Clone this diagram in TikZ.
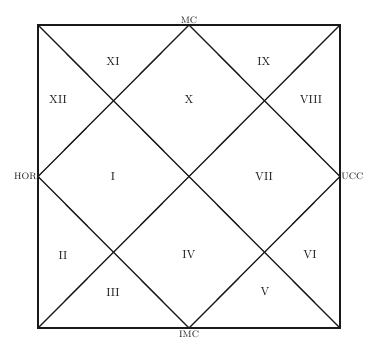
\documentclass[tikz,border=0pt]{standalone}
\usepackage{tikz}
\usetikzlibrary{positioning, calc}
\definecolor{DG}{RGB}{25,25,25}

\begin{document}
\begin{tikzpicture}[
  x=0.03cm, y=-0.03cm,
  chart/.style={draw=DG, line width=1.1pt, line join=miter},
  house/.style={font=\normalsize, text=DG, inner sep=0pt},
  angle/.style={font=\footnotesize, text=DG, inner sep=1pt}
]
\useasboundingbox (0,0) rectangle (367,348);

% Corners and cusp points
\coordinate (tl) at (38,25);
\coordinate (tr) at (340,25);
\coordinate (br) at (340,328);
\coordinate (bl) at (38,328);
\coordinate (mc)  at ($(tl)!0.5!(tr)$);
\coordinate (imc) at ($(bl)!0.5!(br)$);
\coordinate (hor) at ($(tl)!0.5!(bl)$);
\coordinate (ucc) at ($(tr)!0.5!(br)$);

% Frame, diagonals and diamond
\draw[chart] (tl) rectangle (br);
\draw[chart] (tl) -- (br);
\draw[chart] (tr) -- (bl);
\draw[chart] (mc) -- (ucc) -- (imc) -- (hor) -- cycle;

% Angle labels
\node[angle, above=0pt of mc]  (lmc)  {MC};
\node[angle, below=1pt of imc] (limc) {IMC};
\node[angle, left=0pt of hor]  (lhor) {HOR};
\node[angle, right=0pt of ucc] (lucc) {UCC};

% Houses
\node[house] (h1)  at (113,177) {I};
\node[house] (h2)  at (63,255)  {II};
\node[house] (h3)  at (113,292) {III};
\node[house] (h4)  at (189,255) {IV};
\node[house] (h5)  at (265,292) {V};
\node[house] (h6)  at (310,255) {VI};
\node[house] (h7)  at (264,177) {VII};
\node[house] (h8)  at (311,100) {VIII};
\node[house] (h9)  at (264,62)  {IX};
\node[house] (h10) at (189,100) {X};
\node[house] (h11) at (113,62)  {XI};
\node[house] (h12) at (58,100)  {XII};
\end{tikzpicture}
\end{document}
